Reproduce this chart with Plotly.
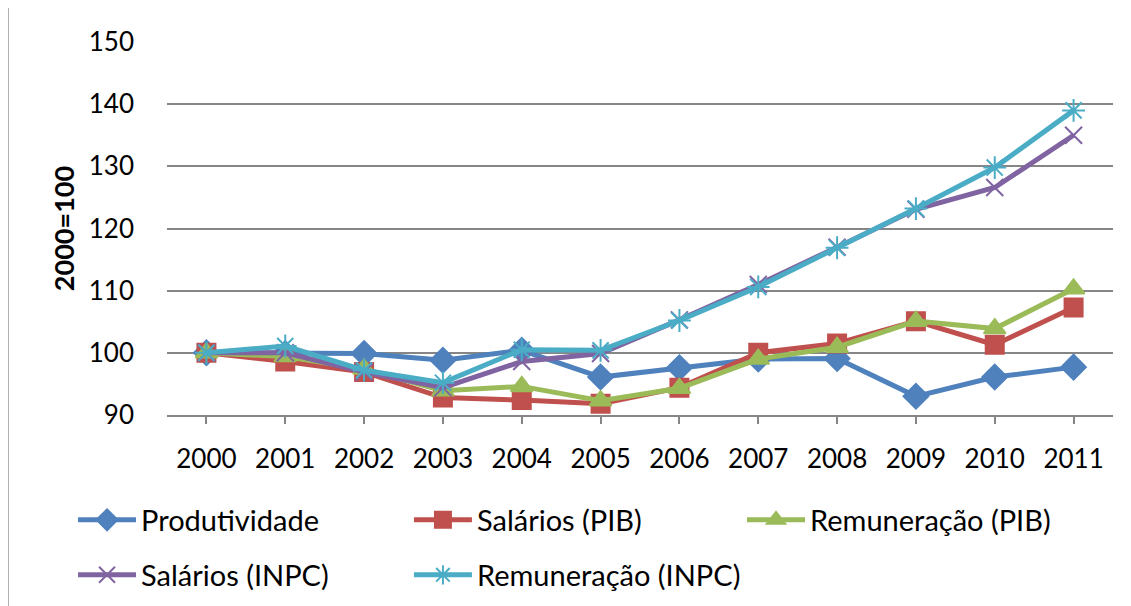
import plotly.graph_objects as go

# data (index 2000 = 100)
anos = ['2000', '2001', '2002', '2003', '2004', '2005',
        '2006', '2007', '2008', '2009', '2010', '2011']

produtividade = [100, 99.9, 99.9, 98.8, 100.4, 96.1, 97.6, 99.0, 99.1, 93.0, 96.1, 97.7]
salarios_pib = [100, 98.6, 96.9, 92.8, 92.4, 91.8, 94.4, 100.0, 101.5, 105.1, 101.3, 107.3]
remuneracao_pib = [100, 99.4, 97.4, 93.9, 94.6, 92.3, 94.3, 99.0, 100.9, 105.1, 103.9, 110.3]
salarios_inpc = [100, 100.0, 96.9, 94.4, 98.6, 99.9, 105.3, 111.0, 117.0, 123.1, 126.6, 135.0]
remuneracao_inpc = [100, 101.1, 97.2, 95.2, 100.5, 100.4, 105.2, 110.6, 116.9, 123.2, 129.8, 139.0]

FONT = "Lato, 'Open Sans', sans-serif"
GRID = "#868686"

# name, values, colour, marker, marker size, legend id
series = [
    ("Produtividade", produtividade, "#4F81BD", "diamond", 19, "legend"),
    ("Salários (PIB)", salarios_pib, "#C0504D", "square", 18, "legend2"),
    ("Remuneração (PIB)", remuneracao_pib, "#9BBB59", "triangle-up", 19, "legend3"),
    ("Salários (INPC)", salarios_inpc, "#8064A2", "x-thin-open", 17, "legend4"),
    ("Remuneração (INPC)", remuneracao_inpc, "#4BACC6", "asterisk-open", 19, "legend5"),
]

fig = go.Figure()
for name, vals, color, symbol, size, leg in series:
    fig.add_trace(go.Scatter(
        x=anos, y=vals, name=name, mode="lines+markers",
        line=dict(color=color, width=5),
        marker=dict(symbol=symbol, size=size, color=color,
                    line=dict(color=color, width=2)),
        legend=leg, showlegend=True,
    ))

def legend_at(x, y):
    # legends placed in figure (container) coordinates
    return dict(
        x=x, y=y, xref="container", yref="container",
        xanchor="left", yanchor="middle", orientation="h",
        font=dict(family=FONT, size=29, color="#000000"),
        itemwidth=58, bgcolor="rgba(0,0,0,0)", visible=True,
    )

col_x = [0.0575, 0.3545, 0.6490]
row_y = [0.1551, 0.0644]

# page body adds an 8px offset, margins below allow for it
fig.update_layout(
    width=1131, height=606,
    margin=dict(l=159, r=26, t=34, b=199),
    paper_bgcolor="white", plot_bgcolor="white",
    font=dict(family=FONT, size=26, color="#000000"),
    showlegend=True,
    legend=legend_at(col_x[0], row_y[0]),
    legend2=legend_at(col_x[1], row_y[0]),
    legend3=legend_at(col_x[2], row_y[0]),
    legend4=legend_at(col_x[0], row_y[1]),
    legend5=legend_at(col_x[1], row_y[1]),
    xaxis=dict(
        type="category", range=[-0.5, 11.5], automargin=False,
        showgrid=False, showline=True, linecolor=GRID, linewidth=1.5,
        ticks="outside", ticklen=7, tickcolor=GRID, tickwidth=1.5,
        tickfont=dict(size=26), ticklabelstandoff=13,
    ),
    yaxis=dict(
        range=[90, 150], dtick=10, automargin=False,
        showgrid=True, gridcolor=GRID, gridwidth=1.5,
        zeroline=False, showline=False, ticks="",
        tickfont=dict(size=26), ticklabelstandoff=32,
        title=dict(text="<b>2000=100</b>", font=dict(size=27), standoff=6),
    ),
    shapes=[dict(type="line", xref="paper", yref="paper",
                 x0=-0.168, x1=-0.168, y0=-1, y1=1.2,
                 line=dict(color="#A0A0A0", width=1.5))],
)

fig.write_html("out.html")
